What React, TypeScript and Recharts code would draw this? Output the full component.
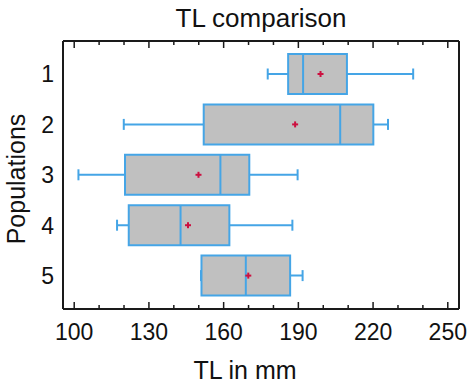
import { Bar, ComposedChart, XAxis, YAxis } from "recharts";

const POPULATIONS = ["1", "2", "3", "4", "5"];
const LOW = [177.7, 119.9, 101.7, 117.2, 150.9];
const Q1 = [185.9, 152.0, 120.4, 121.9, 151.1];
const MEDIAN = [191.9, 206.8, 158.7, 142.7, 168.9];
const Q3 = [209.5, 220.1, 170.3, 162.3, 186.7];
const HIGH = [236.1, 226.0, 189.7, 187.6, 191.7];
const MEAN = [198.9, 188.7, 149.9, 145.7, 169.9];

const X_TICKS = [100, 110, 120, 130, 140, 150, 160, 170, 180, 190, 200, 210, 220, 230, 240, 250];
const X_LABELS = [100, 130, 160, 190, 220, 250];

const BLUE = "#45a5e6";
const GRAY = "#c0c0c0";
const RED = "#cc1040";
const INK = "#1a1a1a";
const FONT = '"Liberation Sans", Arial, Helvetica, sans-serif';

const rows = POPULATIONS.map((pop, i) => ({
  pop,
  whisker: [LOW[i], HIGH[i]],
  box: [Q1[i], Q3[i]],
  median: [Q1[i], MEDIAN[i]],
  mean: [Q1[i], MEAN[i]],
}));

function Whisker(p: any) {
  const { x, y, width, height } = p;
  const cy = y + height / 2;
  return (
    <g stroke={BLUE} strokeWidth={2}>
      <line x1={x} x2={x + width} y1={cy} y2={cy} />
      <line x1={x} x2={x} y1={cy - 5.5} y2={cy + 5.5} />
      <line x1={x + width} x2={x + width} y1={cy - 5.5} y2={cy + 5.5} />
    </g>
  );
}

function MedianLine(p: any) {
  const { x, y, width, height } = p;
  return <line x1={x + width} x2={x + width} y1={y} y2={y + height} stroke={BLUE} strokeWidth={2} />;
}

function MeanMark(p: any) {
  const { x, y, width, height } = p;
  const cx = x + width;
  const cy = y + height / 2;
  return (
    <g stroke={RED} strokeWidth={2}>
      <line x1={cx - 3} x2={cx + 3} y1={cy} y2={cy} />
      <line x1={cx} x2={cx} y1={cy - 3} y2={cy + 3} />
    </g>
  );
}

function BottomTick(p: any) {
  const { x, y, payload } = p;
  const major = X_LABELS.includes(payload.value);
  return (
    <g>
      <line x1={x} x2={x} y1={y} y2={y - (major ? 7 : 4)} stroke={INK} strokeWidth={1.5} />
      {major && (
        <text x={x} y={y + 31} textAnchor="middle" fontSize={23} fill="#111" fontFamily={FONT}>
          {payload.value}
        </text>
      )}
    </g>
  );
}

function TopTick(p: any) {
  const { x, y, payload } = p;
  const major = X_LABELS.includes(payload.value);
  return <line x1={x} x2={x} y1={y} y2={y + (major ? 7 : 4)} stroke={INK} strokeWidth={1.5} />;
}

function LeftTick(p: any) {
  const { x, y, payload } = p;
  return (
    <text x={x - 9} y={y} dy="0.36em" textAnchor="end" fontSize={23} fill="#111" fontFamily={FONT}>
      {payload.value}
    </text>
  );
}

export default function App() {
  return (
    <div style={{ position: "absolute", left: 0, top: 0, width: 473, height: 384, background: "#fff" }}>
      <ComposedChart
        layout="vertical"
        width={473}
        height={384}
        data={rows}
        margin={{ top: 40, right: 13, bottom: 0, left: 0 }}
        barSize={40}
        barGap={-40}
      >
        <XAxis
          xAxisId="b"
          type="number"
          domain={[95.5, 254.5]}
          allowDataOverflow
          ticks={X_TICKS}
          interval={0}
          height={75}
          tickSize={0}
          tickMargin={0}
          tickLine={false}
          axisLine={{ stroke: INK, strokeWidth: 2 }}
          tick={BottomTick}
          label={{
            content: (lp: any) => (
              <text x={245} y={lp.viewBox.y + 70} textAnchor="middle" fontSize={25} fill="#111" fontFamily={FONT}>
                TL in mm
              </text>
            ),
          }}
        />
        <XAxis
          xAxisId="t"
          orientation="top"
          type="number"
          domain={[95.5, 254.5]}
          allowDataOverflow
          ticks={X_TICKS}
          interval={0}
          height={1}
          tickSize={0}
          tickMargin={0}
          tickLine={false}
          axisLine={{ stroke: INK, strokeWidth: 2 }}
          tick={TopTick}
          label={{
            content: (lp: any) => (
              <text
                x={lp.viewBox.x + lp.viewBox.width / 2}
                y={lp.viewBox.y - 13}
                textAnchor="middle"
                fontSize={26}
                fill="#111"
                fontFamily={FONT}
              >
                TL comparison
              </text>
            ),
          }}
        />
        <YAxis
          yAxisId="l"
          type="category"
          dataKey="pop"
          width={63}
          padding={{ top: 8, bottom: 8 }}
          tickSize={0}
          tickMargin={0}
          tickLine={false}
          axisLine={{ stroke: INK, strokeWidth: 2 }}
          tick={LeftTick}
          interval={0}
          label={{
            content: () => (
              <text x={25} y={179} transform="rotate(-90 25 179)" textAnchor="middle" fontSize={25} fill="#111" fontFamily={FONT}>
                Populations
              </text>
            ),
          }}
        />
        <YAxis
          yAxisId="r"
          orientation="right"
          type="category"
          dataKey="pop"
          width={1}
          padding={{ top: 8, bottom: 8 }}
          tick={false}
          tickLine={false}
          axisLine={{ stroke: INK, strokeWidth: 2 }}
        />
        <Bar xAxisId="t" yAxisId="r" dataKey="whisker" shape={Whisker} isAnimationActive={false} />
        <Bar
          xAxisId="b"
          yAxisId="l"
          dataKey="box"
          fill={GRAY}
          stroke={BLUE}
          strokeWidth={2}
          isAnimationActive={false}
        />
        <Bar xAxisId="b" yAxisId="l" dataKey="median" shape={MedianLine} isAnimationActive={false} />
        <Bar xAxisId="b" yAxisId="l" dataKey="mean" shape={MeanMark} isAnimationActive={false} />
      </ComposedChart>
    </div>
  );
}
